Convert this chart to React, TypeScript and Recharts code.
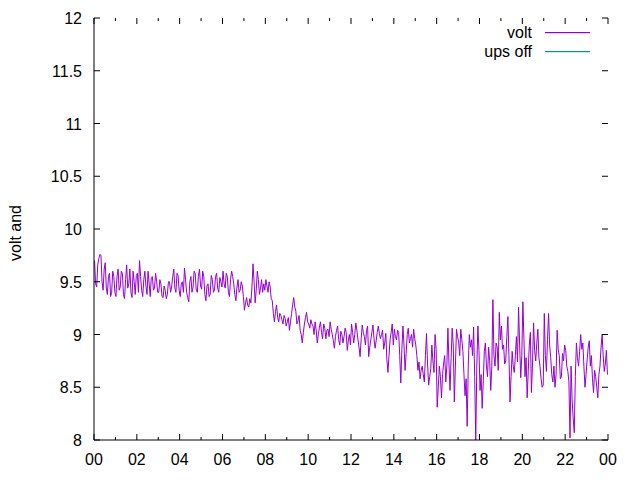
import { LineChart, Line, XAxis, YAxis, Legend } from 'recharts';

const WIDTH = 640;
const HEIGHT = 480;
const PLOT_W = 514;
const PLOT_H = 422;

const VOLT_COLOR = '#9400d3';
const UPS_COLOR = '#009e73';
const FONT = '"Liberation Sans", Arial, sans-serif';

// samples every 3 minutes, starting at 00:01:30
const SAMPLE_START = 0.025;
const SAMPLE_STEP = 0.05;

// volt readings, one row per hour
const volt = [
  9.70, 9.48, 9.45, 9.66, 9.72, 9.76, 9.75, 9.50, 9.42, 9.62, 9.68, 9.44, 9.38, 9.55, 9.58, 9.36, 9.40, 9.60, 9.55, 9.40,
  9.36, 9.55, 9.62, 9.42, 9.45, 9.60, 9.58, 9.38, 9.34, 9.52, 9.66, 9.44, 9.48, 9.62, 9.40, 9.35, 9.60, 9.50, 9.38, 9.56,
  9.58, 9.40, 9.70, 9.55, 9.42, 9.36, 9.52, 9.60, 9.46, 9.38, 9.60, 9.48, 9.36, 9.54, 9.55, 9.42, 9.44, 9.58, 9.50, 9.40,
  9.40, 9.52, 9.48, 9.36, 9.35, 9.46, 9.42, 9.34, 9.38, 9.50, 9.50, 9.40, 9.45, 9.55, 9.62, 9.44, 9.40, 9.58, 9.56, 9.42,
  9.36, 9.48, 9.50, 9.40, 9.63, 9.52, 9.40, 9.35, 9.31, 9.50, 9.55, 9.40, 9.45, 9.60, 9.58, 9.42, 9.40, 9.55, 9.62, 9.46,
  9.43, 9.60, 9.55, 9.38, 9.32, 9.46, 9.48, 9.36, 9.38, 9.56, 9.52, 9.40, 9.42, 9.55, 9.58, 9.44, 9.40, 9.54, 9.50, 9.45,
  9.60, 9.48, 9.44, 9.58, 9.55, 9.40, 9.36, 9.52, 9.60, 9.55, 9.48, 9.38, 9.32, 9.45, 9.52, 9.40, 9.42, 9.50, 9.46, 9.36,
  9.23, 9.30, 9.35, 9.28, 9.26, 9.34, 9.30, 9.45, 9.67, 9.50, 9.30, 9.42, 9.60, 9.52, 9.38, 9.44, 9.52, 9.40, 9.48, 9.42,
  9.52, 9.46, 9.40, 9.50, 9.45, 9.34, 9.32, 9.20, 9.12, 9.22, 9.28, 9.16, 9.12, 9.20, 9.18, 9.14, 9.10, 9.18, 9.15, 9.08,
  9.12, 9.16, 9.04, 9.12, 9.20, 9.28, 9.35, 9.26, 9.22, 9.10, 9.13, 9.18, 9.04, 9.00, 8.92, 9.02, 9.10, 9.16, 9.21, 9.12,
  9.10, 9.06, 9.14, 9.10, 9.08, 9.00, 9.12, 9.04, 8.92, 9.00, 9.07, 9.12, 9.02, 8.96, 9.10, 9.06, 8.96, 9.04, 9.05, 8.98,
  9.12, 9.05, 9.00, 8.94, 8.87, 8.98, 9.04, 9.08, 8.95, 8.90, 9.03, 9.00, 8.92, 8.98, 9.06, 9.02, 8.85, 8.94, 9.00, 8.90,
  9.10, 9.02, 8.92, 9.00, 9.11, 9.04, 8.95, 8.88, 8.79, 8.96, 9.09, 9.02, 8.98, 8.90, 9.04, 9.08, 8.79, 8.88, 8.95, 9.02,
  9.09, 8.96, 8.87, 8.94, 9.02, 9.08, 9.01, 8.96, 9.00, 9.04, 8.86, 8.92, 9.01, 8.76, 8.64, 8.80, 8.95, 9.02, 9.10, 8.90,
  9.05, 8.98, 8.95, 9.04, 9.02, 8.80, 8.54, 8.86, 9.08, 8.90, 8.66, 8.82, 9.00, 9.06, 8.92, 8.96, 9.00, 8.88, 9.05, 8.96,
  8.90, 8.80, 8.66, 8.74, 8.58, 8.66, 8.70, 8.62, 8.55, 8.80, 9.01, 8.72, 8.52, 8.60, 8.68, 8.90, 8.75, 8.64, 9.00, 8.86,
  8.31, 8.50, 8.70, 8.60, 8.40, 8.62, 8.73, 8.80, 8.55, 8.70, 9.06, 8.72, 8.47, 8.78, 9.06, 8.90, 8.36, 8.70, 9.05, 8.98,
  8.93, 8.80, 9.05, 8.95, 8.84, 8.62, 8.42, 8.58, 8.13, 8.70, 9.00, 8.88, 8.95, 8.80, 9.07, 8.60, 8.00, 8.70, 9.08, 8.85,
  8.47, 8.62, 8.30, 8.55, 8.84, 8.92, 8.70, 8.60, 8.88, 8.75, 8.47, 8.70, 9.33, 8.80, 8.70, 8.92, 8.88, 8.66, 9.21, 8.95,
  9.08, 8.86, 8.90, 8.72, 8.75, 8.98, 9.17, 8.80, 8.36, 8.60, 8.84, 8.70, 8.64, 8.80, 8.98, 8.74, 9.26, 8.90, 8.59, 8.80,
  9.31, 8.95, 8.60, 8.78, 8.40, 8.65, 8.90, 9.02, 8.45, 8.72, 9.11, 8.85, 8.75, 8.92, 9.05, 8.78, 8.70, 8.58, 8.50, 8.52,
  9.20, 8.80, 8.65, 8.95, 9.20, 8.90, 8.78, 8.62, 8.55, 8.70, 8.50, 8.62, 9.04, 8.86, 8.80, 8.58, 8.60, 8.82, 8.75, 8.90,
  8.85, 8.70, 8.65, 8.55, 8.02, 8.70, 8.38, 8.20, 8.07, 8.60, 8.92, 8.78, 8.70, 8.84, 9.00, 8.86, 8.92, 8.70, 8.50, 8.62,
  8.76, 8.88, 8.94, 8.70, 8.80, 8.58, 8.45, 8.66, 8.60, 8.50, 8.40, 8.62, 8.70, 8.88, 9.00, 8.80, 8.65, 8.72, 8.85, 8.62,
];

const xTicks = [0, 1, 2, 3, 4, 5, 6, 7, 8, 9, 10, 11, 12, 13, 14, 15, 16, 17, 18, 19, 20, 21, 22, 23, 24];
const xTickLabels = ['00', '02', '04', '06', '08', '10', '12', '14', '16', '18', '20', '22', '00'];
const yTicks = [8, 8.5, 9, 9.5, 10, 10.5, 11, 11.5, 12];
const yTickLabels = ['8', '8.5', '9', '9.5', '10', '10.5', '11', '11.5', '12'];
const legendNames = ['volt', 'ups off'];
const legendColors = [VOLT_COLOR, UPS_COLOR];

const chartData = volt.map((v, i) => ({ t: SAMPLE_START + i * SAMPLE_STEP, volt: v }));

function XTick({ x, y, payload }: any) {
  const v = payload.value as number;
  const major = v % 2 === 0;
  const len = major ? 6 : 3;
  return (
    <g>
      <line x1={x} y1={y} x2={x} y2={y - len} stroke="#000" />
      <line x1={x} y1={y - PLOT_H} x2={x} y2={y - PLOT_H + len} stroke="#000" />
      {major && (
        <text x={x} y={y + 25} textAnchor="middle" fontFamily={FONT} fontSize={16} fill="#000">
          {xTickLabels[v / 2]}
        </text>
      )}
    </g>
  );
}

function YTick({ x, y, payload, index }: any) {
  return (
    <g>
      <line x1={x} y1={y} x2={x + 6} y2={y} stroke="#000" />
      <line x1={x + PLOT_W} y1={y} x2={x + PLOT_W - 6} y2={y} stroke="#000" />
      <text x={x - 12} y={y + 6} textAnchor="end" fontFamily={FONT} fontSize={16} fill="#000">
        {yTickLabels[index] ?? String(payload.value)}
      </text>
    </g>
  );
}

// gnuplot-style key: right-aligned name, line sample to its right
function GnuLegend() {
  return (
    <svg width={WIDTH} height={70} style={{ display: 'block' }}>
      {legendNames.map((name, i) => (
        <g key={name}>
          <text x={532} y={38 + i * 19} textAnchor="end" fontFamily={FONT} fontSize={16} fill="#000">
            {name}
          </text>
          <rect x={545} width={45} y={32 + i * 19} height={1.2} fill={legendColors[i]} />
        </g>
      ))}
    </svg>
  );
}

export default function App() {
  return (
    <div style={{ position: 'absolute', left: 0, top: 0, width: WIDTH, height: HEIGHT, background: '#fff' }}>
      <LineChart width={WIDTH} height={HEIGHT} data={chartData} margin={{ top: 18, right: 32, bottom: 0, left: 0 }}>
        <XAxis
          dataKey="t"
          type="number"
          domain={[0, 24]}
          ticks={xTicks}
          interval={0}
          height={40}
          tickSize={0}
          tickMargin={0}
          tickLine={false}
          axisLine={{ stroke: '#000' }}
          tick={<XTick />}
        />
        <XAxis xAxisId="top" orientation="top" type="number" domain={[0, 24]} height={0} tick={false} tickLine={false} axisLine={{ stroke: '#000' }} />
        <YAxis
          type="number"
          domain={[8, 12]}
          ticks={yTicks}
          interval={0}
          width={94}
          tickSize={0}
          tickMargin={0}
          tickLine={false}
          axisLine={{ stroke: '#000' }}
          tick={<YTick />}
          label={{
            content: () => (
              <text x={21} y={233} transform="rotate(-90 21 233)" textAnchor="middle" fontFamily={FONT} fontSize={16} fill="#000">
                volt and
              </text>
            ),
          }}
        />
        <YAxis yAxisId="right" orientation="right" type="number" domain={[8, 12]} width={0} tick={false} tickLine={false} axisLine={{ stroke: '#000' }} />
        <Legend
          layout="horizontal"
          verticalAlign="middle"
          content={<GnuLegend />}
          wrapperStyle={{ position: 'absolute', top: 0, left: 0, width: WIDTH, height: 70 }}
        />
        <Line type="linear" dataKey="volt" name="volt" stroke={VOLT_COLOR} strokeWidth={1} dot={false} isAnimationActive={false} />
        <Line type="linear" dataKey="upsOff" name="ups off" stroke={UPS_COLOR} strokeWidth={1} dot={false} isAnimationActive={false} />
      </LineChart>
    </div>
  );
}
